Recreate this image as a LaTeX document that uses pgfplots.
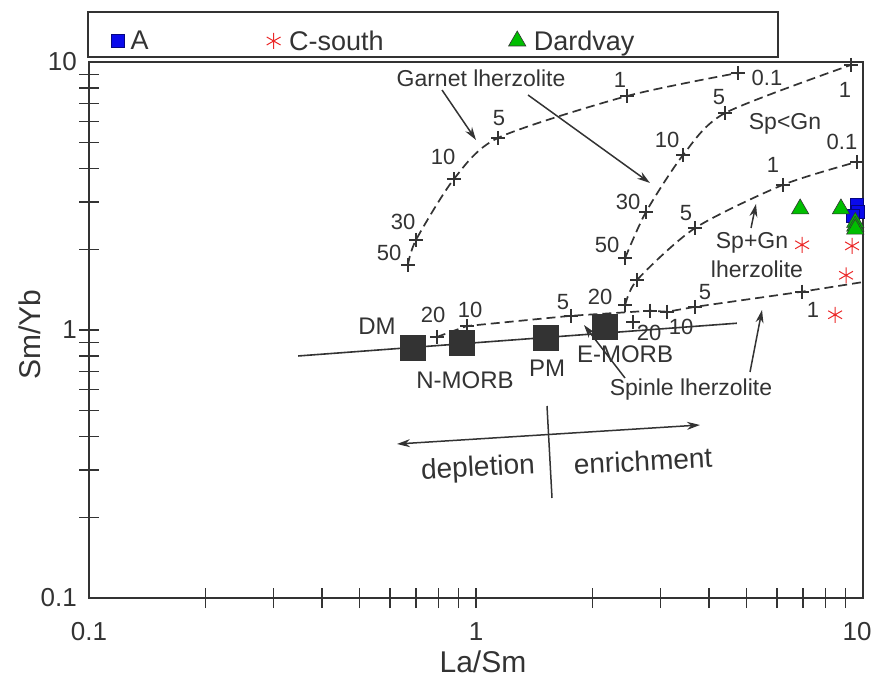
\documentclass[border=0pt]{standalone}
\usepackage{pgfplots}
\pgfplotsset{compat=1.18}
\usepackage{fontspec}
\setmainfont{Liberation Sans}
\usetikzlibrary{arrows.meta}

\definecolor{ink}{RGB}{51,51,51}
\definecolor{ptblue}{RGB}{10,10,235}
\definecolor{ptred}{RGB}{235,40,40}
\definecolor{ptgreen}{RGB}{0,190,0}

\newcommand\fnum{\fontsize{22}{24}\selectfont}
\newcommand\fann{\fontsize{23}{25}\selectfont}
\newcommand\fem{\fontsize{24}{26}\selectfont}
\newcommand\fbig{\fontsize{28}{30}\selectfont}

\tikzset{
  melt/.style={ink, line width=1.7pt, dash pattern=on 9pt off 5pt},
  arr/.style={ink, line width=1.5pt, -{Stealth[length=13pt,width=8pt]}},
}

\begin{document}
\begin{tikzpicture}
\begin{axis}[
  at={(89pt,91pt)}, anchor=south west,
  scale only axis, width=774pt, height=536pt,
  xmode=log, ymode=log,
  xmin=0.1, xmax=10, ymin=0.1, ymax=10,
  axis line style={line width=2pt, ink},
  xtick={0.1,1}, ytick={0.1,1,10},
  xticklabels={0.1,1}, yticklabels={0.1,1,10},
  extra x ticks={10}, extra x tick labels={10},
  extra x tick style={major tick length=0pt,
    xticklabel style={xshift=-6pt}},
  minor xtick={0.2,0.3,0.4,0.5,0.6,0.7,0.8,0.9,1,2,3,4,5,6,7,8,9},
  minor ytick={0.2,0.3,0.4,0.5,0.6,0.7,0.8,0.9,1,2,3,4,5,6,7,8,9},
  major tick length=0pt, minor tick length=20pt, tick align=center,
  xtick pos=bottom, ytick pos=left,
  tick style={line width=1.5pt, ink},
  /pgf/number format/assume math mode=true,
  ticklabel style={font=\fontsize{26}{28}\selectfont, text=ink},
  xticklabel style={anchor=center, yshift=-34pt},
  yticklabel style={anchor=east, inner sep=0pt, xshift=-12pt},
  xlabel={La/Sm}, ylabel={Sm/Yb},
  label style={font=\fontsize{30}{32}\selectfont, text=ink},
  xlabel style={at={(axis description cs:0.509,0)}, anchor=center, yshift=-64pt},
  ylabel style={at={(axis description cs:-0.0762,0.491)}, anchor=center},
  clip=false,
  legend columns=3,
  legend cell align=left,
  legend style={at={(axis description cs:0.0291,1.0392)}, anchor=west,
    draw=none, fill=none, inner sep=0pt,
    nodes={inner sep=0pt, text=ink},
    font=\fontsize{27}{29}\selectfont,
    /tikz/every even column/.append style={column sep=0pt}},
]
% melting curves
\addplot[forget plot, melt, smooth, tension=0.45] coordinates {
  (0.667,1.75) (0.700,2.17) (0.877,3.66) (1.14,5.21) (2.46,7.47) (4.75,9.10)};
\addplot[forget plot, melt, smooth, tension=0.45] coordinates {
  (2.43,1.86) (2.75,2.76) (3.43,4.50) (4.40,6.45) (9.31,9.75)};
\addplot[forget plot, melt, smooth, tension=0.45] coordinates {
  (2.43,1.24) (2.61,1.54) (3.68,2.40) (6.21,3.48) (9.65,4.24)};
\addplot[forget plot, melt] coordinates {
  (0.792,0.942) (0.948,1.035) (1.76,1.13) (2.82,1.18) (3.12,1.17)
  (3.68,1.22) (6.96,1.39) (10,1.51)};
% melt fraction ticks
\addplot[forget plot, only marks, mark=+, mark size=7pt, ink, line width=1.7pt]
  coordinates {
  (0.667,1.75) (0.700,2.17) (0.877,3.66) (1.14,5.21) (2.46,7.47) (4.75,9.10)
  (2.43,1.86) (2.75,2.76) (3.43,4.50) (4.40,6.45) (9.31,9.75)
  (2.43,1.24) (2.61,1.54) (3.68,2.40) (6.21,3.48) (9.65,4.24)
  (0.792,0.942) (0.948,1.035) (1.76,1.13) (2.82,1.18) (3.12,1.17)
  (3.68,1.22) (6.96,1.39) (2.55,1.07)};
% mantle array
\addplot[forget plot, ink, line width=1.6pt] coordinates {(0.347,0.800) (4.72,1.06)};
% end members: DM, N-MORB, PM, E-MORB
\addplot[forget plot, only marks, mark=square*, mark size=12.5pt,
  mark options={fill=ink, draw=ink}] coordinates {
  (0.687,0.857) (0.920,0.894) (1.51,0.934) (2.15,1.03)};
% samples
\addplot[only marks, mark=square*, mark size=6.5pt,
  mark options={fill=ptblue, draw=ptblue!55!black, line width=0.6pt}] coordinates {
  (9.66,2.93) (9.71,2.76) (9.43,2.66)};
\addlegendentry{\makebox[142pt][l]{\hspace{6pt}A}}
\addplot[only marks, mark=asterisk, mark size=8pt, ptred, line width=1pt] coordinates {
  (6.96,2.08) (9.37,2.06) (9.04,1.60) (8.47,1.14)};
\addlegendentry{\makebox[228pt][l]{\hspace{8.5pt}C-south}}
\addplot[only marks, mark=triangle*, mark size=10pt,
  mark options={fill=ptgreen, draw=ink, line width=0.6pt}] coordinates {
  (6.88,2.83) (8.77,2.83) (9.55,2.52) (9.55,2.44) (9.55,2.38)};
\addlegendentry{\hspace{8pt}Dardvay}
\end{axis}

\begin{scope}[x=1pt, y=-1pt, shift={(0pt,689pt)}, text=ink]
  % legend frame
  \draw[ink, line width=2pt] (88,12) rectangle (778,57);
  % curve labels
  \node[font=\fann] at (481,78) {Garnet lherzolite};
  \node[font=\fann] at (785,124) {Sp<Gn};
  \node[font=\fann] at (752,243) {Sp+Gn};
  \node[font=\fann] at (757,269) {lherzolite};
  \node[font=\fann] at (691,390) {Spinle lherzolite};
  % end-member labels
  \node[font=\fem] at (377,326) {DM};
  \node[font=\fem] at (465,380) {N-MORB};
  \node[font=\fem] at (547,368) {PM};
  \node[font=\fem] at (625,354) {E-MORB};
  % melt fractions
  \node[font=\fnum] at (389,253) {50};
  \node[font=\fnum] at (403,222) {30};
  \node[font=\fnum] at (443,157) {10};
  \node[font=\fnum] at (499,118) {5};
  \node[font=\fnum] at (620,80) {1};
  \node[font=\fnum] at (767,78) {0.1};
  \node[font=\fnum] at (607,245) {50};
  \node[font=\fnum] at (628,202) {30};
  \node[font=\fnum] at (667,140) {10};
  \node[font=\fnum] at (719,97) {5};
  \node[font=\fnum] at (845,90) {1};
  \node[font=\fnum] at (842,142) {0.1};
  \node[font=\fnum] at (773,165) {1};
  \node[font=\fnum] at (686,213) {5};
  \node[font=\fnum] at (600,297) {20};
  \node[font=\fnum] at (433,315) {20};
  \node[font=\fnum] at (470,310) {10};
  \node[font=\fnum] at (563,302) {5};
  \node[font=\fnum] at (705,292) {5};
  \node[font=\fnum] at (813,310) {1};
  \node[font=\fnum] at (649,333) {20};
  \node[font=\fnum] at (681,327) {10};
  % pointers
  \draw[arr] (442,90) -- (476,140);
  \draw[arr] (528,95) -- (650,183);
  \draw[arr] (751,228) -- (756,204);
  \draw[arr] (750,372) -- (762,310);
  \draw[arr] (625,378) -- (584,325);
  % depletion / enrichment
  \draw[ink, line width=1.5pt, {Stealth[length=13pt,width=8pt]}-{Stealth[length=13pt,width=8pt]}]
    (397,444) -- (700,425);
  \draw[ink, line width=1.5pt] (547,406) -- (552,498);
  \node[font=\fbig, rotate=3] at (478,469) {depletion};
  \node[font=\fbig, rotate=3] at (643,461) {enrichment};
\end{scope}
\pgfresetboundingbox
\path (0pt,0pt) rectangle (875pt,689pt);
\end{tikzpicture}
\end{document}
